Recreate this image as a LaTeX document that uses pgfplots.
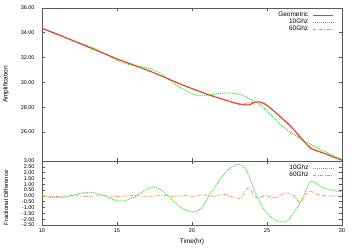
\documentclass[border=0pt]{standalone}
\usepackage{fontspec}
\setmainfont{Liberation Sans}
\usepackage{pgfplots}
\pgfplotsset{compat=1.18}
\usetikzlibrary{calc}
\definecolor{cgeo}{HTML}{F03C2D}
\definecolor{cten}{HTML}{22E222}
\definecolor{csix}{HTML}{FF7F50}
\pgfplotsset{
  myax/.style={
    scale only axis, width=300bp,
    xmin=10, xmax=30, xtick={10,15,20,25,30},
    axis line style={black!65, line width=0.7pt},
    every tick/.style={black!65, line width=0.6pt},
    major tick length=3bp,
    tick label style={font=\fontsize{5.5}{6}\selectfont},
    x tick label style={/pgf/number format/assume math mode=true},
    y tick label style={/pgf/number format/fixed, /pgf/number format/fixed zerofill, /pgf/number format/precision=2, /pgf/number format/assume math mode=true, xshift=-4bp},
    legend style={at={(1,1)}, anchor=north east, xshift=-8bp, yshift=-3.5bp, draw=none, fill=none,
      font=\fontsize{6.5}{7}\selectfont, inner sep=0pt, row sep=0pt, column sep=4bp,
      nodes={inner sep=0.5pt, text height=4.8pt, text depth=1.2pt}},
    legend cell align=right, legend plot pos=right,
    legend image code/.code={\draw[##1] (0bp,0bp) -- (20bp,0bp);},
  },
  geo/.style={cgeo, line width=1.1pt, smooth},
  ten/.style={cten, line width=0.8pt, dash pattern=on 1.1pt off 0.9pt, smooth},
  six/.style={csix, line width=0.7pt, dash pattern=on 3pt off 1.4pt on 1pt off 1.4pt, smooth},
}
\begin{document}
\begin{tikzpicture}
\begin{axis}[myax, name=bot, height=64bp,
  ymin=-2.5, ymax=3, ytick={-2.5,-2,...,3},
  xlabel={Time(hr)}, ylabel={Fractional Difference},
  xlabel style={font=\fontsize{6.5}{7}\selectfont, yshift=0bp},
  ylabel style={font=\fontsize{6}{7}\selectfont, at={(axis description cs:-0.12,0.42)}, anchor=center},
]
\addplot[ten] coordinates {(10,0)(10.5,-0.12)(11,-0.17)(11.5,-0.1)(12,0.03)(12.5,0.2)(13.2,0.31)(13.7,0.2)(14.2,0)(14.7,-0.3)(15.3,-0.45)(15.8,-0.3)(16.3,0)(16.8,0.45)(17.4,0.77)(17.9,0.55)(18.4,0)(18.8,-0.5)(19.2,-0.92)(19.6,-1.25)(20.1,-1.38)(20.6,-1.1)(21.1,-0.1)(21.6,0.9)(22.1,1.8)(22.6,2.45)(23.1,2.7)(23.5,2.45)(23.9,1.4)(24.2,0.3)(24.6,-0.7)(25,-1.5)(25.5,-2.05)(25.9,-2.23)(26.4,-2.1)(26.9,-1.2)(27.2,-0.6)(27.5,0.2)(27.9,1.25)(28.2,1.15)(28.6,0.8)(29,0.6)(29.5,0.45)(30,0.35)};
\addlegendentry{10Ghz}
\addplot[six] coordinates {(10,0)(11,-0.05)(12,0.03)(13,-0.05)(14,0.03)(15,-0.05)(16,0.03)(17,-0.04)(18,0.03)(18.8,-0.05)(19.5,0.05)(20.2,-0.05)(20.8,0.08)(21.5,-0.05)(22,0.15)(22.5,0)(23,-0.2)(23.3,-0.1)(23.75,0.68)(24.3,-0.16)(24.87,0.03)(25.5,-0.15)(26.3,0.27)(26.8,0)(27.2,-0.6)(27.5,0)(27.87,0.42)(28.3,0.15)(29,0)(30,0)};
\addlegendentry{60Ghz}
\end{axis}
\begin{axis}[myax, name=top, at={(bot.north west)}, anchor=south west, height=153bp,
  ymin=23.66, ymax=36, ytick={26,28,...,36}, xticklabels={},
  ylabel={Amplification},
  ylabel style={font=\fontsize{6.5}{7}\selectfont, at={(axis description cs:-0.12,0.5)}, anchor=center},
]
\addlegendimage{geo}\addlegendentry{Geometric}
\addlegendimage{ten}\addlegendentry{10Ghz}
\addlegendimage{six}\addlegendentry{60Ghz}
\addplot[six, forget plot] coordinates {(10,34.36)(11,33.88)(12,33.41)(13,32.88)(14,32.41)(15,31.88)(16,31.46)(17,30.99)(18,30.51)(19,29.97)(20,29.49)(21,29.05)(22,28.69)(22.5,28.47)(23,28.24)(23.3,28.21)(23.75,28.37)(24.3,28.35)(24.87,28.28)(25.5,27.61)(26.3,26.84)(26.8,26.16)(27.2,25.47)(27.5,25.2)(27.87,24.83)(28.3,24.53)(29,24.2)(30,23.72)};
\addplot[ten, forget plot] coordinates {(10,34.36)(10.5,34.09)(11,33.84)(11.5,33.62)(12,33.41)(12.5,33.22)(13.2,32.9)(13.7,32.62)(14.2,32.3)(14.7,31.95)(15.3,31.63)(15.8,31.44)(16.3,31.32)(16.8,31.23)(17.4,31.04)(17.9,30.72)(18.4,30.29)(18.8,29.93)(19.2,29.61)(19.6,29.32)(20.1,29.05)(20.6,28.91)(21.1,28.98)(21.6,29.07)(22.1,29.13)(22.6,29.14)(23.1,29.04)(23.5,28.89)(23.9,28.64)(24.2,28.46)(24.6,28.16)(25,27.69)(25.5,27.08)(25.9,26.6)(26.4,26.1)(26.9,25.72)(27.2,25.47)(27.5,25.25)(27.9,25.01)(28.2,24.83)(28.6,24.55)(29,24.35)(29.5,24.06)(30,23.8)};
\addplot[geo, forget plot] coordinates {(10,34.36)(11,33.9)(12,33.4)(13,32.9)(14,32.4)(15,31.9)(16,31.45)(17,31.0)(18,30.5)(19,29.98)(20,29.5)(21,29.05)(22,28.65)(23,28.3)(23.4,28.22)(23.8,28.18)(24.1,28.36)(24.4,28.43)(24.8,28.3)(25.5,27.65)(26,27.1)(26.5,26.55)(27,25.9)(27.5,25.2)(27.9,24.7)(28.5,24.4)(29,24.2)(29.5,23.95)(30,23.72)};
\end{axis}
\pgfresetboundingbox
\path[use as bounding box] ($(top.north west)+(-42bp,8bp)$) rectangle ($(bot.south east)+(12bp,-23bp)$);
\end{tikzpicture}
\end{document}
